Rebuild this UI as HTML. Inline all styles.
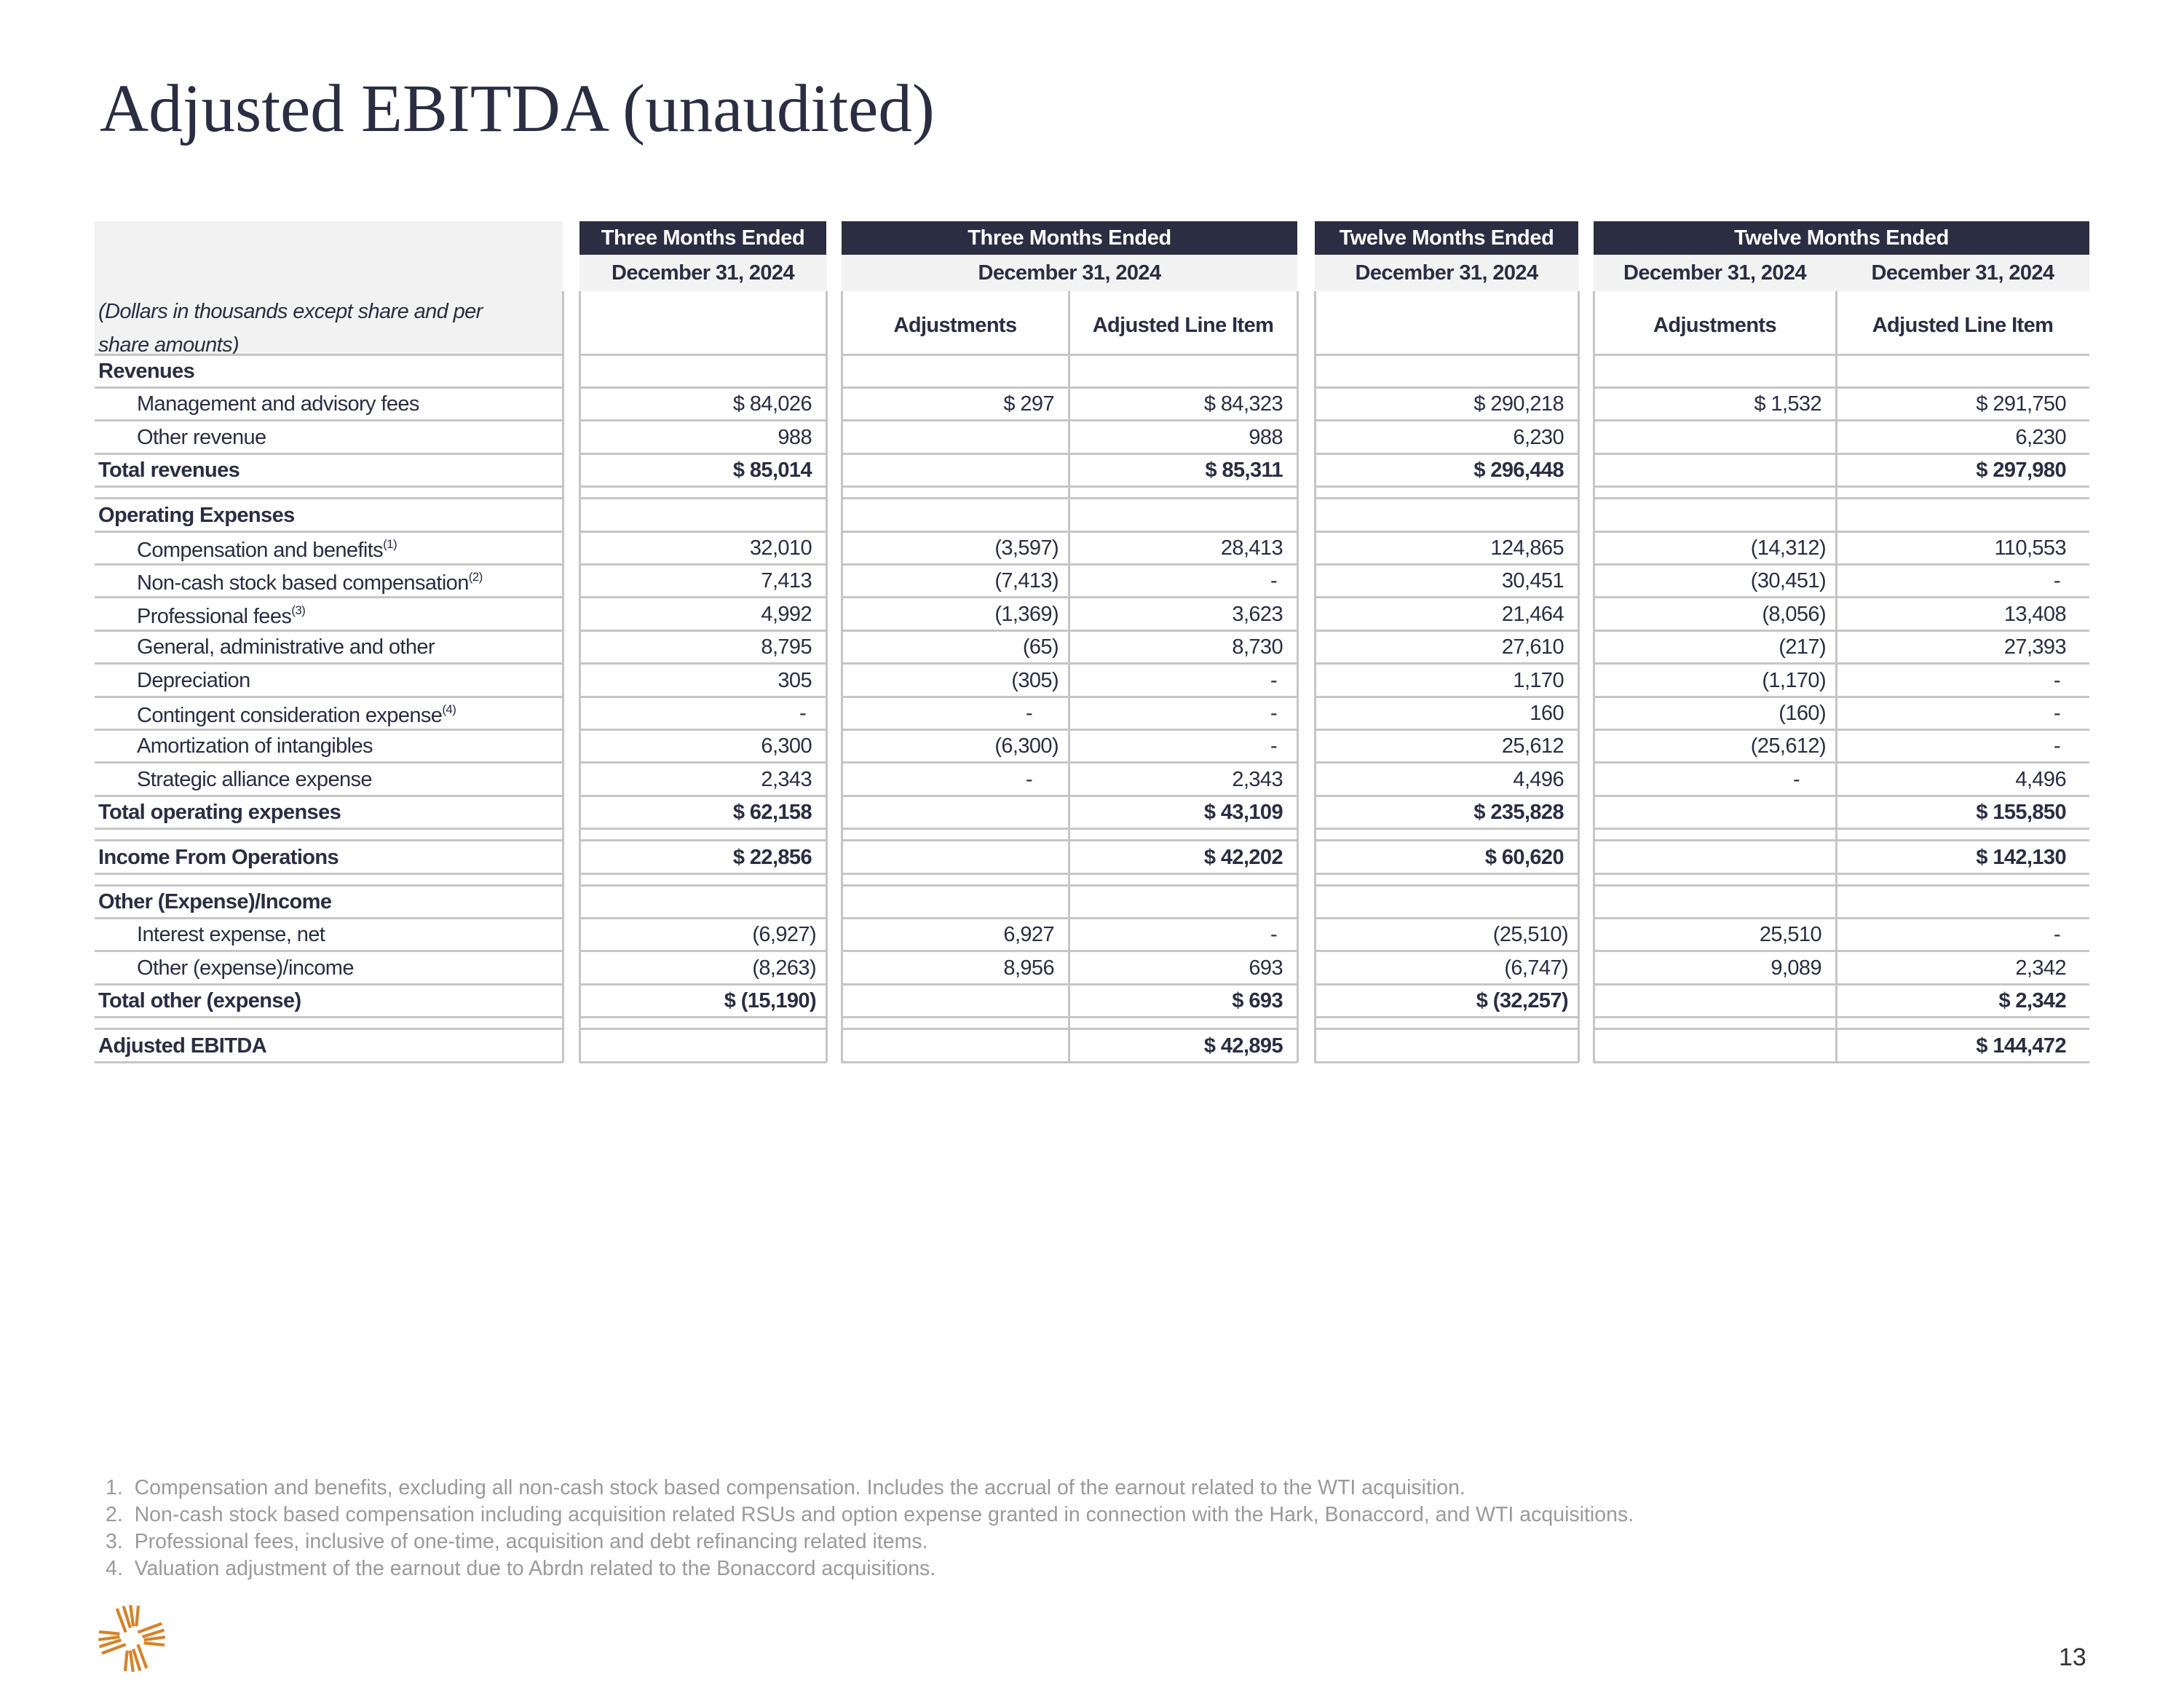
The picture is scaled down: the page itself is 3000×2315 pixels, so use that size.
<!DOCTYPE html>
<html><head><meta charset="utf-8">
<style>
body{margin:0;width:3000px;height:2315px;background:#fff;position:relative;overflow:hidden;font-family:"Liberation Sans",sans-serif;color:#2b2d42}
.a{position:absolute}
.t{position:absolute;font-size:29px;letter-spacing:-0.6px;white-space:nowrap;line-height:1}
.b{font-weight:bold}
.hl{position:absolute;height:3px;background:#c6c6c6}
.vl{position:absolute;width:3px;background:#c6c6c6}
sup{font-size:17px;vertical-align:12px}
.fn{position:absolute;left:145px;font-size:28.5px;color:#9a9a9a;white-space:nowrap}
</style></head>
<body>
<div class="a" style="left:137px;top:96px;font-family:'Liberation Serif',serif;font-size:93px;color:#2b2d42;white-space:nowrap">Adjusted EBITDA (unaudited)</div>
<div id="tbl"></div>
<div class="fn" style="top:2028px">1.&nbsp;&nbsp;Compensation and benefits, excluding all non-cash stock based compensation. Includes the accrual of the earnout related to the WTI acquisition.</div>
<div class="fn" style="top:2065px">2.&nbsp;&nbsp;Non-cash stock based compensation including acquisition related RSUs and option expense granted in connection with the Hark, Bonaccord, and WTI acquisitions.</div>
<div class="fn" style="top:2102px">3.&nbsp;&nbsp;Professional fees, inclusive of one-time, acquisition and debt refinancing related items.</div>
<div class="fn" style="top:2139px">4.&nbsp;&nbsp;Valuation adjustment of the earnout due to Abrdn related to the Bonaccord acquisitions.</div>
<div class="a" style="left:2828px;top:2258px;font-size:34px;color:#333">13</div>
<svg class="a" style="left:133px;top:2203px" width="96" height="96" viewBox="0 0 92 92">
<defs><clipPath id="c"><circle cx="46" cy="46" r="44"/></clipPath></defs>
<g clip-path="url(#c)" stroke="#d4832a" stroke-width="4" fill="none">
<g id="q"><line x1="24" y1="0" x2="38" y2="38"/><line x1="34" y1="0" x2="44" y2="32"/><line x1="44" y1="0" x2="48" y2="30"/><line x1="55" y1="0" x2="52" y2="30"/></g>
<use href="#q" transform="rotate(90 46 46)"/><use href="#q" transform="rotate(180 46 46)"/><use href="#q" transform="rotate(270 46 46)"/>
</g></svg>
<script>
const rowLabels=["Revenues","Management and advisory fees","Other revenue","Total revenues","","Operating Expenses","Compensation and benefits","Non-cash stock based compensation","Professional fees","General, administrative and other","Depreciation","Contingent consideration expense","Amortization of intangibles","Strategic alliance expense","Total operating expenses","","Income From Operations","","Other (Expense)/Income","Interest expense, net","Other (expense)/income","Total other (expense)","","Adjusted EBITDA"];
const rowTypes=["h","i","i","b","s","h","i","i","i","i","i","i","i","i","b","s","b","s","h","i","i","b","s","b"];
const rowSups=["","","","","","","(1)","(2)","(3)","","","(4)","","","","","","","","","","","",""];
const q4Reported=["","$ 84,026","988","$ 85,014","","","32,010","7,413","4,992","8,795","305","-","6,300","2,343","$ 62,158","","$ 22,856","","","(6,927)","(8,263)","$ (15,190)","",""];
const q4Adjustments=["","$ 297","","","","","(3,597)","(7,413)","(1,369)","(65)","(305)","-","(6,300)","-","","","","","","6,927","8,956","","",""];
const q4Adjusted=["","$ 84,323","988","$ 85,311","","","28,413","-","3,623","8,730","-","-","-","2,343","$ 43,109","","$ 42,202","","","-","693","$ 693","","$ 42,895"];
const fyReported=["","$ 290,218","6,230","$ 296,448","","","124,865","30,451","21,464","27,610","1,170","160","25,612","4,496","$ 235,828","","$ 60,620","","","(25,510)","(6,747)","$ (32,257)","",""];
const fyAdjustments=["","$ 1,532","","","","","(14,312)","(30,451)","(8,056)","(217)","(1,170)","(160)","(25,612)","-","","","","","","25,510","9,089","","",""];
const fyAdjusted=["","$ 291,750","6,230","$ 297,980","","","110,553","-","13,408","27,393","-","-","-","4,496","$ 155,850","","$ 142,130","","","-","2,342","$ 2,342","","$ 144,472"];
const series=[q4Reported,q4Adjustments,q4Adjusted,fyReported,fyAdjustments,fyAdjusted];
const T=document.getElementById('tbl');
function mk(cls,css,txt){const d=document.createElement('div');d.className=cls;d.style.cssText=css;if(txt!==undefined)d.innerHTML=txt;T.appendChild(d);return d;}
const cols=[[796,1135],[1156,1468],[1468,1782],[1806,2168],[2189,2522],[2522,2870]];
const rpad=[20,20,20,20,20,32];
const groups=[[130,773],[796,1135],[1156,1782],[1806,2168],[2189,2870]];
let e;
e=mk('a','left:130px;top:304px;width:643px;height:183px;background:#f2f2f2');


const topTitles=["Three Months Ended","Three Months Ended","Twelve Months Ended","Twelve Months Ended"];
const hg=[groups[1],groups[2],groups[3],groups[4]];
hg.forEach((g,i)=>{
 e=mk('a',`left:${g[0]}px;top:304px;width:${g[1]-g[0]}px;height:46px;background:#2b2d42;color:#fff;font-weight:bold;font-size:29px;letter-spacing:-0.4px;text-align:center;line-height:46px`,topTitles[i]);
 
 
 e=mk('a',`left:${g[0]}px;top:350px;width:${g[1]-g[0]}px;height:50px;background:#f2f2f2`);
 
 
});
const dateCols=[[796,1135],[1156,1782],[1806,2168],[2189,2522],[2522,2870]];
dateCols.forEach(c=>{
 e=mk('t b',`left:${c[0]}px;width:${c[1]-c[0]}px;top:361px;text-align:center`,"December 31, 2024");
 
 
});
e=mk('t',`left:135px;top:405px;font-style:italic;line-height:46px`,"(Dollars in thousands except share and per<br>share amounts)");


[[1,"Adjustments"],[2,"Adjusted Line Item"],[4,"Adjustments"],[5,"Adjusted Line Item"]].forEach(p=>{
 const c=cols[p[0]];
 e=mk('t b',`left:${c[0]}px;width:${c[1]-c[0]}px;top:433px;text-align:center`,p[1]);
 
 
});
let y=487;const rh=45.4,sh=16;
const hline=(yy)=>{groups.forEach(g=>{e=mk('hl',`left:${g[0]}px;top:${yy-1.5}px;width:${g[1]-g[0]}px`);});};
hline(487);
rowLabels.forEach((lab,i)=>{
 const h=rowTypes[i]==='s'?sh:rh;
 if(rowTypes[i]!=='s'){
  const bold=rowTypes[i]!=='i';
  e=mk('t'+(bold?' b':''),`left:${bold?135:188}px;top:${y+9}px`,lab+(rowSups[i]?`<sup>${rowSups[i]}</sup>`:''));
  
  
  series.forEach((s,k)=>{
   const v=s[i];if(!v)return;
   const c=cols[k];const paren=v.endsWith(')');
   const pad=v==='-'?(k===1||k===4?50:28)+(rpad[k]-20):(paren?rpad[k]-6:rpad[k]);
   e=mk('t'+(bold?' b':''),`left:${c[0]}px;width:${c[1]-c[0]-pad}px;top:${y+9}px;text-align:right`,v);
   
   
  });
 }
 y+=h;hline(y);
});
const bottom=y;
[773,796,1135,1156,1468,1782,1806,2168,2189,2522].forEach(x=>{
 e=mk('vl',`left:${x-1.5}px;top:400px;height:${bottom-400+1}px`);
 
 
});
</script>
</body></html>
